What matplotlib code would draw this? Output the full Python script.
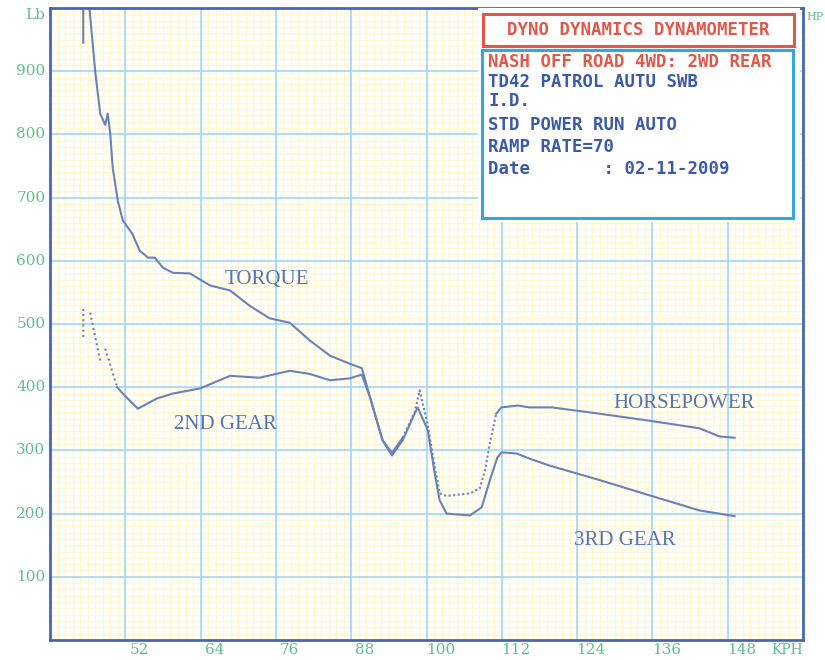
import matplotlib.pyplot as plt
import numpy as np
from matplotlib.patches import Rectangle

# speed (kph) and torque (lb) / horsepower traces
torque_kph = [45.3, 45.3, 46.2, 46.3, 47.2, 48.0, 48.8, 49.2, 49.6, 50.0, 50.8, 51.6,
              53.1, 54.3, 55.6, 56.7, 58.0, 59.6, 62.3, 65.5, 68.7, 71.8, 75.0, 78.2,
              81.4, 84.6, 87.8, 89.7, 91.0, 93.0, 94.5, 96.2, 98.1, 98.6, 100.2, 101.3,
              102.1, 103.2, 106.9, 108.8, 110.1, 111.3, 112.0, 114.4, 116.4, 119.6,
              127.6, 135.5, 143.5, 149.1]
torque_lb = [945, 1060, 1060, 998, 900, 833, 815, 833, 801, 747, 695, 664,
             643, 616, 605, 605, 589, 581, 580, 561, 553, 529, 509, 502,
             474, 450, 437, 430, 384, 316, 292, 316, 358, 368, 332, 264,
             221, 200, 197, 210, 253, 289, 297, 295, 287, 276,
             253, 229, 205, 196]

hp_kph = [45.3, 45.3, np.nan, 46.4, 48.0, np.nan, 48.8, 50.7, 51.6, 54.0, 57.0, 59.6,
          63.9, 68.7, 73.4, 78.2, 81.4, 84.6, 87.8, 89.7, 91.0, 93.0, 94.5, 96.2,
          98.1, 98.9, 100.2, 101.3, 102.1, 103.2, 106.9, 108.5, 109.3, 110.2, 111.1,
          111.9, 114.6, 116.4, 120.0, 127.6, 135.5, 143.5, 146.7, 149.1]
hp_val = [524, 479, np.nan, 518, 442, np.nan, 461, 400, 390, 366, 382, 390,
          398, 418, 415, 426, 421, 411, 414, 420, 384, 316, 296, 320,
          360, 395, 340, 275, 232, 228, 232, 240, 268, 316, 358,
          368, 371, 368, 368, 358, 347, 335, 322, 320]

x_ticks = [52, 64, 76, 88, 100, 112, 124, 136, 148]
y_ticks = [100, 200, 300, 400, 500, 600, 700, 800, 900]

info_title = 'DYNO DYNAMICS DYNAMOMETER'
info_lines = ['NASH OFF ROAD 4WD: 2WD REAR',
              'TD42 PATROL AUTU SWB',
              'I.D.',
              'STD POWER RUN AUTO',
              'RAMP RATE=70',
              'Date       : 02-11-2009']

green = '#5fbf8c'
frame = '#4665b8'
curve = '#6b82b8'
label_col = '#5873b0'
red = '#e0584a'
blue_txt = '#3d5aa8'

fig = plt.figure(figsize=(8.25, 6.6), dpi=100)
ax = fig.add_axes([50/825, 20/660, 753/825, 632/660])
ax.set_xlim(40, 160)
ax.set_ylim(0, 1000)
ax.set_xticks([])
ax.set_yticks([])
for s in ax.spines.values():
    s.set_color(frame)
    s.set_linewidth(2)

# graph paper: faint yellow minor lines, light blue major lines
for xv in np.arange(40, 160, 1.2):
    ax.axvline(xv, color='#fdf8d0', lw=1.0, zorder=0)
for yv in np.arange(0, 1000, 10):
    ax.axhline(yv, color='#fdf8d0', lw=1.0, zorder=0)
for xv in range(52, 160, 12):
    ax.axvline(xv, color='#acd8f2', lw=1.3, zorder=0.5)
for yv in range(100, 1000, 100):
    ax.axhline(yv, color='#acd8f2', lw=1.3, zorder=0.5)

# tick labels by hand so they sit like the printout
for xv in x_ticks:
    ax.text(xv + 2.2, -16, str(xv), color=green, fontsize=11, family='DejaVu Serif',
            ha='center', va='center', clip_on=False)
for yv in y_ticks:
    ax.text(-0.006, yv, str(yv), transform=ax.get_yaxis_transform(), color=green,
            fontsize=11, family='DejaVu Serif', ha='right', va='center', clip_on=False)
ax.text(-0.006, 1000, 'Lb', transform=ax.get_yaxis_transform(), color=green,
        fontsize=11, family='DejaVu Serif', ha='right', va='top', clip_on=False)
ax.text(1.004, 985, 'HP', transform=ax.get_yaxis_transform(), color=green,
        fontsize=8, family='DejaVu Serif', ha='left', va='center', clip_on=False)
ax.text(1.0, -16, 'KPH', transform=ax.get_yaxis_transform(), color=green,
        fontsize=10, family='DejaVu Serif', ha='right', va='center', clip_on=False)

# curves
tx = np.array(torque_kph)
ty = np.array(torque_lb)
ax.plot(tx, ty, color=curve, lw=1.5)

hx = np.array(hp_kph)
hy = np.array(hp_val)
ax.plot(hx[:8], hy[:8], color=curve, lw=1.5, ls=(0, (1, 1.5)))
ax.plot(hx[7:24], hy[7:24], color=curve, lw=1.5)
ax.plot(hx[23:35], hy[23:35], color=curve, lw=1.5, ls=(0, (1, 1.2)))
ax.plot(hx[34:], hy[34:], color=curve, lw=1.5)

# curve labels
for txt, xv, yv in [('TORQUE', 74.6, 570), ('2ND GEAR', 67.9, 341),
                    ('HORSEPOWER', 141.1, 374), ('3RD GEAR', 131.6, 158)]:
    ax.text(xv, yv, txt, color=label_col, fontsize=15, family='Liberation Serif',
            ha='center', va='center')

# info box (pixel positions from the sheet converted to data units)
def px(x):
    return 40 + (x - 50) / 6.275

def py(y):
    return (640 - y) / 0.632

ax.add_patch(Rectangle((px(478), py(222)), 322/6.275, 214/0.632,
                       facecolor='white', edgecolor='none', zorder=3))
ax.add_patch(Rectangle((px(483), py(46)), 311/6.275, 32/0.632,
                       facecolor='white', edgecolor=red, lw=2.2, zorder=4))
ax.add_patch(Rectangle((px(482), py(218)), 311/6.275, 168/0.632,
                       facecolor='white', edgecolor='#35a7de', lw=2.2, zorder=4))
ax.text(px(638), py(30), info_title, color=red, fontsize=12.5, fontweight='bold',
        family='DejaVu Sans Mono', ha='center', va='center', zorder=5)
line_y = [62, 82, 101, 125, 147, 169]
for i, (ln, yy) in enumerate(zip(info_lines, line_y)):
    ax.text(px(488), py(yy), ln, color=red if i == 0 else blue_txt, fontsize=12.5,
            fontweight='bold', family='DejaVu Sans Mono', ha='left', va='center', zorder=5)

fig.savefig('out.png', dpi=100)
